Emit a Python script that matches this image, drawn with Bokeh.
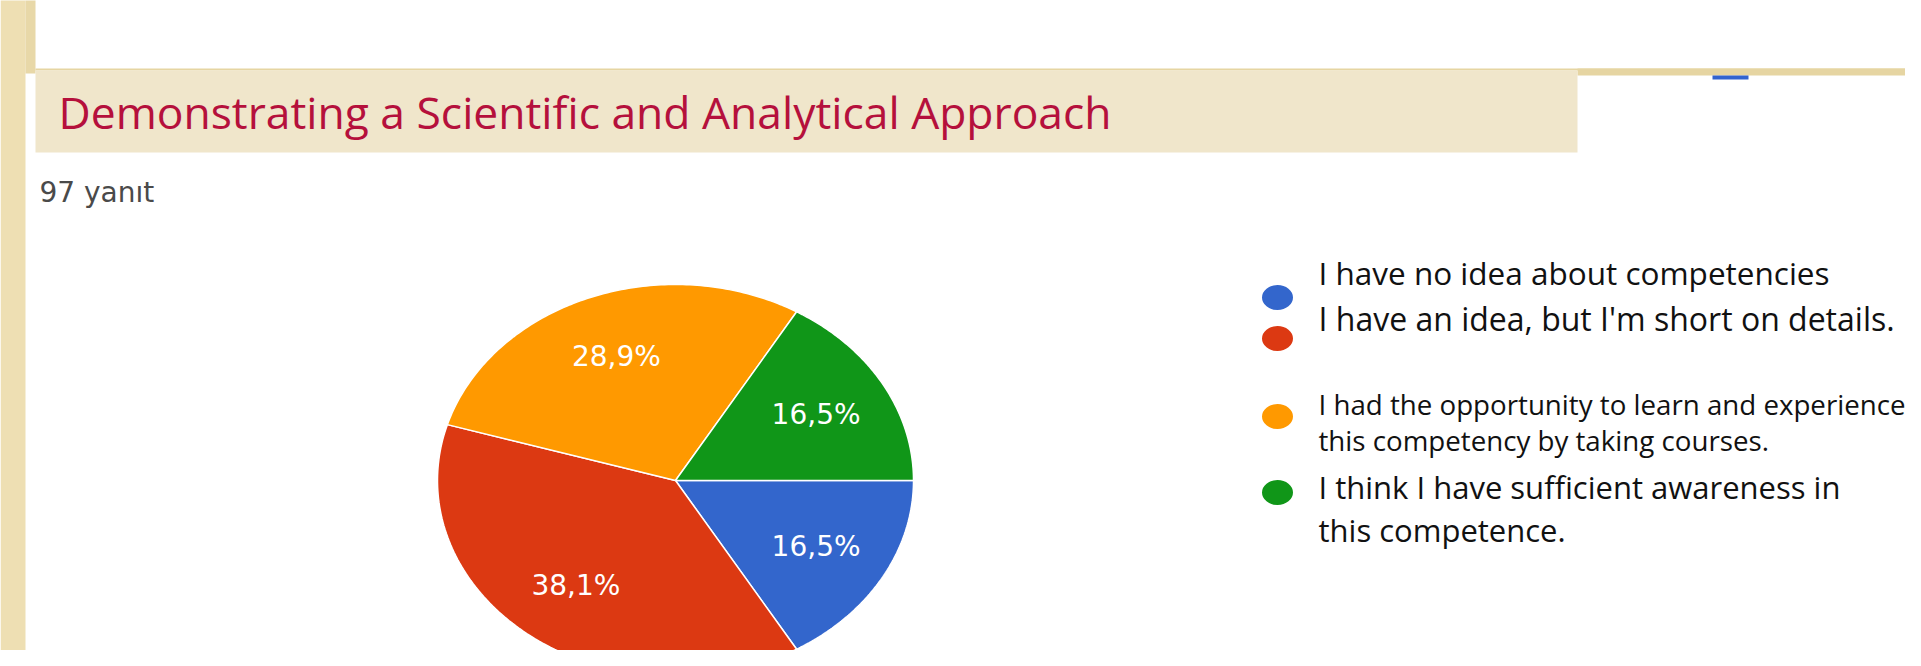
import numpy as np
from bokeh.plotting import figure
from bokeh.models import Range1d, ColumnDataSource
from bokeh.core.properties import value
from bokeh.embed import file_html
from bokeh.resources import INLINE

# ---------------- data ----------------
title_text = "Demonstrating a Scientific and Analytical Approach"
subtitle_text = "97 yanıt"
categories = [
    "I have no idea about competencies",
    "I have an idea, but I'm short on details.",
    "I had the opportunity to learn and experience this competency by taking courses.",
    "I think I have sufficient awareness in this competence.",
]
values = [16.5, 38.1, 28.9, 16.5]
pct_labels = ["16,5%", "38,1%", "28,9%", "16,5%"]
colors = ["#3366cc", "#dc3912", "#ff9900", "#109618"]
legend_lines = [
    ["I have no idea about competencies"],
    ["I have an idea, but I'm short on details."],
    ["I had the opportunity to learn and experience", "this competency by taking courses."],
    ["I think I have sufficient awareness in", "this competence."],
]

# ---------------- layout (screen pixel coordinates) ----------------
W, H = 1905, 650
p = figure(width=W, height=H, x_range=Range1d(0, W), y_range=Range1d(H, 0),
           output_backend="svg", toolbar_location=None, min_border=0)
p.axis.visible = False
p.grid.visible = False
p.outline_line_color = None
p.background_fill_color = "white"
p.border_fill_color = "white"

# slide decorations
p.quad(left=0, right=25, top=-10, bottom=700, fill_color="#eedfb3", line_color=None)
p.quad(left=25, right=35, top=-10, bottom=73, fill_color="#e8d8a8", line_color=None)
p.quad(left=35, right=1930, top=68, bottom=70, fill_color="#e6d5a2", line_color=None)
p.quad(left=1577, right=1930, top=68, bottom=75, fill_color="#e6d5a2", line_color=None)
p.quad(left=35, right=1577, top=70, bottom=152, fill_color="#f0e6cb", line_color=None)
p.quad(left=1712, right=1748, top=75, bottom=79, fill_color="#3263cf", line_color=None)

p.text(x=[58], y=[111], text=[title_text], text_font=value("Open Sans"),
       text_font_size="44.4px", text_color="#b5103c", text_baseline="middle")
p.text(x=[39], y=[192], text=[subtitle_text], text_font=value("DejaVu Sans"),
       text_font_size="28px", text_color="#4a4a4a", text_baseline="middle")

# ---------------- pie (elliptical, via its own ranges) ----------------
cx, cy, rx, ry = 675, 480, 238, 196
p.extra_x_ranges = {"pie": Range1d((0 - cx) / rx, (W - cx) / rx)}
p.extra_y_ranges = {"pie": Range1d((cy - H) / ry, (cy - 0) / ry)}

vals = np.array(values)
ends = -np.cumsum(vals) / vals.sum() * 2 * np.pi
starts = np.concatenate([[0.0], ends[:-1]])
xs, ys, lx, ly = [], [], [], []
for a0, a1 in zip(starts, ends):
    t = np.linspace(a0, a1, 120)
    xs.append(np.concatenate([[0.0], np.cos(t)]))
    ys.append(np.concatenate([[0.0], np.sin(t)]))
    m = (a0 + a1) / 2
    lx.append(0.68 * np.cos(m))
    ly.append(0.68 * np.sin(m))

src = ColumnDataSource(dict(xs=xs, ys=ys, color=colors))
p.patches("xs", "ys", source=src, fill_color="color", line_color="white",
          line_width=1.5, x_range_name="pie", y_range_name="pie")
p.text(x=lx, y=ly, text=pct_labels, x_range_name="pie", y_range_name="pie",
       text_font=value("DejaVu Sans"), text_font_size="28px", text_color="white",
       text_align="center", text_baseline="middle")

# ---------------- legend ----------------
marker_y = [297, 338, 416, 492]
p.ellipse(x=[1277] * 4, y=marker_y, width=31, height=25, fill_color=colors, line_color=None)

line_centers = [[271.5], [318], [403, 439], [486, 529]]
line_sizes = [["31.5px"], ["32px"], ["27.7px", "27.7px"], ["31px", "31px"]]
for lines, cents, sizes in zip(legend_lines, line_centers, line_sizes):
    for txt, c, s in zip(lines, cents, sizes):
        p.text(x=[1318], y=[c], text=[txt], text_font=value("Open Sans"),
               text_font_size=s, text_color="#111111", text_baseline="middle")

open("out.html", "w").write(file_html(p, INLINE))
